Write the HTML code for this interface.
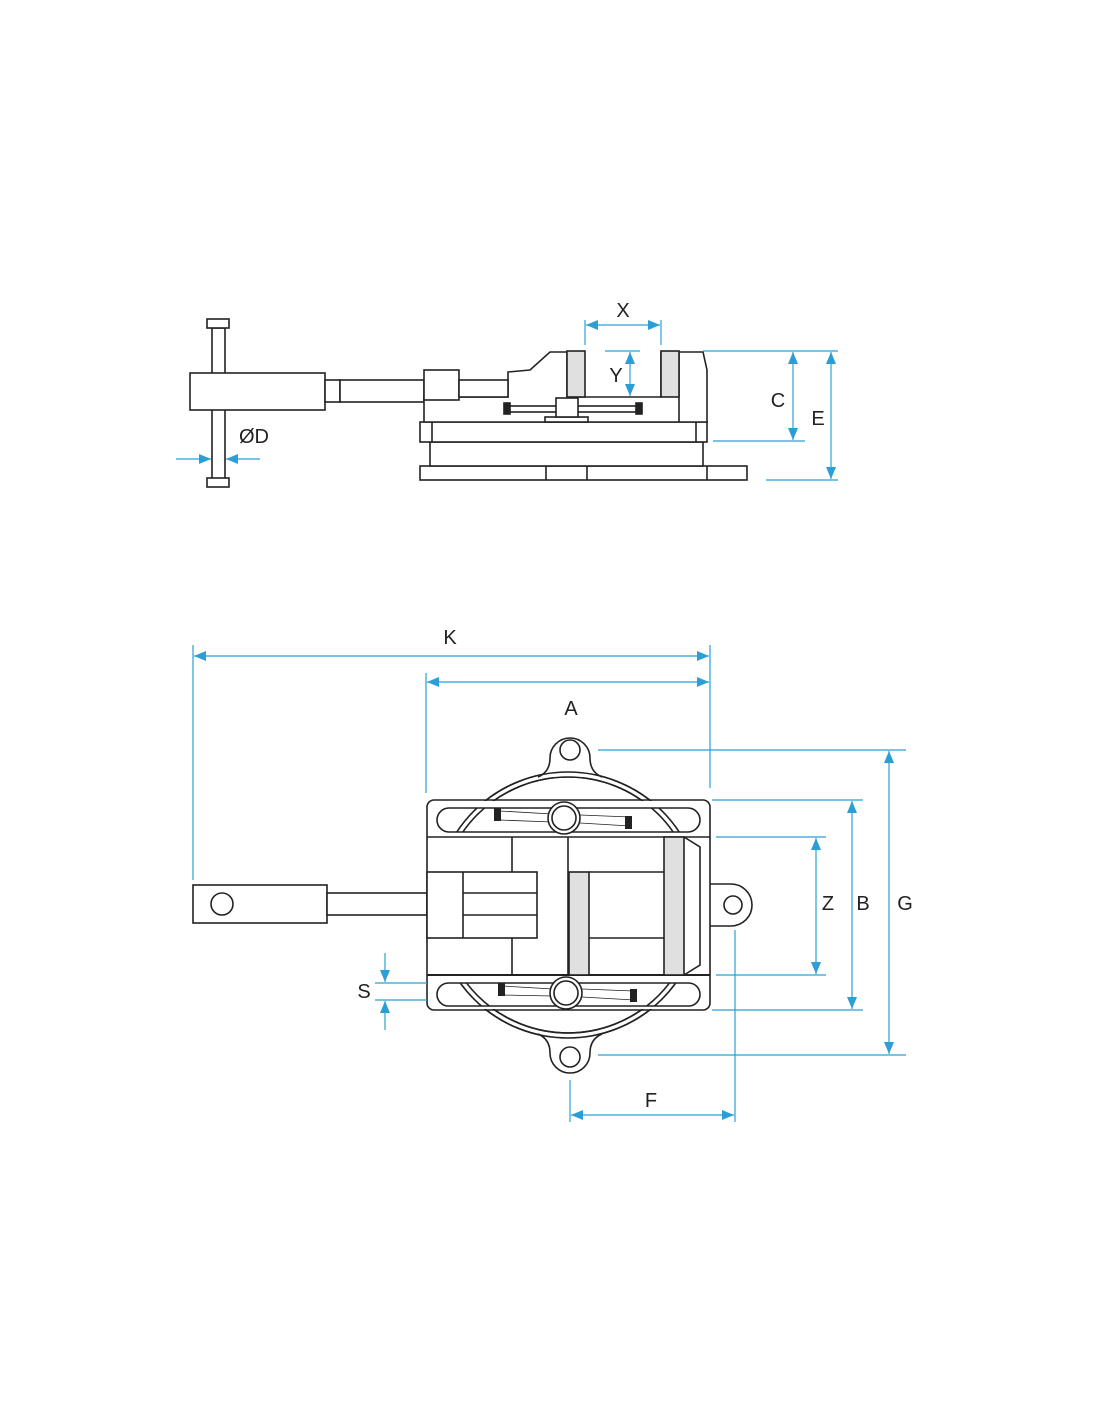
<!DOCTYPE html>
<html><head><meta charset="utf-8"><style>body{margin:0;background:#fff}svg{display:block}</style></head><body>
<svg width="1100" height="1422" viewBox="0 0 1100 1422" xmlns="http://www.w3.org/2000/svg">
<defs>
<marker id="a" viewBox="0 0 12 10" refX="12" refY="5" markerWidth="13" markerHeight="10" markerUnits="userSpaceOnUse" orient="auto-start-reverse"><path d="M0,0 L12,5 L0,10z" fill="#2a9fd6"/></marker>
<clipPath id="cl">
<rect x="0" y="0" width="1100" height="801"/><rect x="0" y="1009" width="1100" height="413"/>
<rect x="437" y="808" width="263" height="24" rx="12"/><rect x="437" y="983" width="263" height="23" rx="11.5"/>
</clipPath>
</defs>
<g fill="#fff" stroke="#222" stroke-width="1.6">
<!-- top view -->
<rect x="212" y="328" width="13" height="151"/>
<rect x="207" y="319" width="22" height="9"/>
<rect x="207" y="478" width="22" height="9"/>
<rect x="190" y="373" width="135" height="37"/>
<rect x="325" y="380" width="15" height="22"/>
<rect x="340" y="380" width="84" height="22"/>
<rect x="420" y="466" width="327" height="14"/>
<line x1="546" y1="466" x2="546" y2="480"/><line x1="587" y1="466" x2="587" y2="480"/><line x1="707" y1="466" x2="707" y2="480"/>
<rect x="430" y="442" width="273" height="24"/>
<rect x="420" y="422" width="287" height="20"/>
<line x1="432" y1="422" x2="432" y2="442"/><line x1="696" y1="422" x2="696" y2="442"/>
<path d="M424,422 L424,397 L508,397 L508,372 L530,370 L550,352 L567,352 L567,397 L661,397 L661,352 L703,352 L707,370 L707,422 Z"/>
<line x1="679" y1="352" x2="679" y2="422"/>
<rect x="424" y="370" width="35" height="30"/>
<rect x="459" y="380" width="49" height="17"/>
<rect x="567" y="351" width="18" height="46" fill="#e0e0e0"/>
<rect x="661" y="351" width="18" height="46" fill="#e0e0e0"/>
<rect x="508" y="406" width="132" height="6"/>
<rect x="504" y="403" width="6" height="11" fill="#222"/><rect x="636" y="403" width="6" height="11" fill="#222"/>
<rect x="545" y="417" width="43" height="5"/>
<rect x="556" y="398" width="22" height="19"/>
<!-- bottom view -->
<rect x="193" y="885" width="134" height="38"/>
<circle cx="222" cy="904" r="11"/>
<rect x="327" y="893" width="100" height="22"/>
<g clip-path="url(#cl)" fill="none">
<circle cx="568" cy="905" r="133"/><circle cx="568" cy="905" r="128"/>
</g>
<path d="M538,777 Q550,772 550,758 A20,20 0 0 1 590,758 Q590,772 602,777"/>
<circle cx="570" cy="750" r="10"/>
<path d="M538,1034 Q550,1039 550,1053 A20,20 0 0 0 590,1053 Q590,1039 602,1034"/>
<circle cx="570" cy="1057" r="10"/>
<path d="M700,884 L731,884 A21,21 0 0 1 731,926 L700,926 Z"/>
<circle cx="733" cy="905" r="9"/>
<path d="M427,807 a7,7 0 0 1 7,-7 L703,800 a7,7 0 0 1 7,7 L710,1003 a7,7 0 0 1 -7,7 L434,1010 a7,7 0 0 1 -7,-7 Z"/>
<line x1="427" y1="837" x2="710" y2="837"/><line x1="427" y1="975" x2="710" y2="975" stroke-width="2"/>
<rect x="437" y="808" width="263" height="24" rx="12" fill="none"/>
<rect x="437" y="983" width="263" height="23" rx="11.5" fill="none"/>
<g clip-path="url(#cl)" fill="none">
<circle cx="568" cy="905" r="133"/><circle cx="568" cy="905" r="128"/>
</g>
<g stroke-width="0.8" fill="none"><path d="M500,811 L552,814 M500,820 L552,822 M630,817 L580,815 M630,826 L580,823"/>
<path d="M502,986 L553,989 M502,995 L553,996 M634,991 L582,989 M634,1000 L582,997"/></g>
<rect x="494" y="808" width="7" height="13" fill="#222" stroke="none"/>
<rect x="625" y="816" width="7" height="13" fill="#222" stroke="none"/>
<rect x="498" y="983" width="7" height="13" fill="#222" stroke="none"/>
<rect x="630" y="989" width="7" height="13" fill="#222" stroke="none"/>
<circle cx="564" cy="818" r="16"/><circle cx="564" cy="818" r="12"/>
<circle cx="566" cy="993" r="16"/><circle cx="566" cy="993" r="12"/>
<line x1="512" y1="837" x2="512" y2="872"/><line x1="512" y1="938" x2="512" y2="975"/>
<line x1="568" y1="837" x2="568" y2="975"/>
<rect x="569" y="872" width="20" height="103" fill="#e0e0e0"/>
<line x1="589" y1="872" x2="664" y2="872"/><line x1="589" y1="938" x2="664" y2="938"/>
<rect x="664" y="837" width="20" height="138" fill="#e0e0e0"/>
<path d="M684,837 L700,847 L700,965 L684,975" fill="none"/>
<rect x="427" y="872" width="110" height="66"/>
<line x1="463" y1="872" x2="463" y2="938"/>
<line x1="463" y1="893" x2="537" y2="893"/><line x1="463" y1="915" x2="537" y2="915"/>
</g>
<g stroke="#2a9fd6" stroke-width="1.2" fill="none">
<line x1="585" y1="320" x2="585" y2="345"/><line x1="661" y1="320" x2="661" y2="345"/>
<line x1="586" y1="325" x2="660" y2="325" marker-start="url(#a)" marker-end="url(#a)"/>
<line x1="605" y1="351" x2="640" y2="351"/>
<line x1="630" y1="352" x2="630" y2="396" marker-start="url(#a)" marker-end="url(#a)"/>
<line x1="703" y1="351" x2="838" y2="351"/><line x1="713" y1="441" x2="805" y2="441"/><line x1="766" y1="480" x2="838" y2="480"/>
<line x1="793" y1="352" x2="793" y2="440" marker-start="url(#a)" marker-end="url(#a)"/>
<line x1="831" y1="352" x2="831" y2="479" marker-start="url(#a)" marker-end="url(#a)"/>
<line x1="176" y1="459" x2="211" y2="459" marker-end="url(#a)"/>
<line x1="260" y1="459" x2="226" y2="459" marker-end="url(#a)"/>
<line x1="193" y1="645" x2="193" y2="880"/><line x1="710" y1="645" x2="710" y2="788"/><line x1="426" y1="673" x2="426" y2="793"/>
<line x1="194" y1="656" x2="709" y2="656" marker-start="url(#a)" marker-end="url(#a)"/>
<line x1="427" y1="682" x2="709" y2="682" marker-start="url(#a)" marker-end="url(#a)"/>
<line x1="598" y1="750" x2="906" y2="750"/><line x1="598" y1="1055" x2="906" y2="1055"/>
<line x1="712" y1="800" x2="863" y2="800"/><line x1="712" y1="1010" x2="863" y2="1010"/>
<line x1="716" y1="837" x2="826" y2="837"/><line x1="716" y1="975" x2="826" y2="975"/>
<line x1="889" y1="751" x2="889" y2="1054" marker-start="url(#a)" marker-end="url(#a)"/>
<line x1="852" y1="801" x2="852" y2="1009" marker-start="url(#a)" marker-end="url(#a)"/>
<line x1="816" y1="838" x2="816" y2="974" marker-start="url(#a)" marker-end="url(#a)"/>
<line x1="375" y1="983" x2="427" y2="983"/><line x1="375" y1="1000" x2="427" y2="1000"/>
<line x1="385" y1="953" x2="385" y2="982" marker-end="url(#a)"/>
<line x1="385" y1="1030" x2="385" y2="1001" marker-end="url(#a)"/>
<line x1="570" y1="1080" x2="570" y2="1122"/><line x1="735" y1="930" x2="735" y2="1122"/>
<line x1="571" y1="1115" x2="734" y2="1115" marker-start="url(#a)" marker-end="url(#a)"/>
</g>
<g font-family="Liberation Sans, sans-serif" font-size="20" fill="#222" text-anchor="middle">
<text x="623" y="317">X</text><text x="616" y="382">Y</text><text x="778" y="407">C</text><text x="818" y="425">E</text>
<text x="254" y="443">ØD</text>
<text x="450" y="644">K</text><text x="571" y="715">A</text>
<text x="828" y="910">Z</text><text x="863" y="910">B</text><text x="905" y="910">G</text>
<text x="364" y="998">S</text><text x="651" y="1107">F</text>
</g>
</svg>
</body></html>
